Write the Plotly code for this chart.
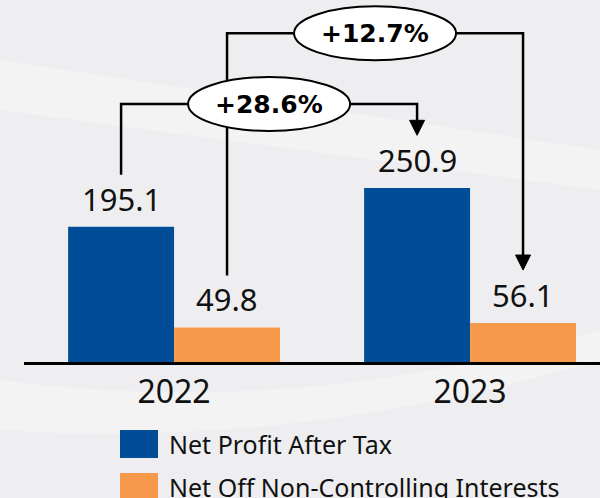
import plotly.graph_objects as go

# ---------------- data ----------------
categories = ["2022", "2023"]
series_names = ["Net Profit After Tax", "Net Off Non-Controlling Interests"]
npat = [195.1, 250.9]
nci = [49.8, 56.1]
growth_npat = "+28.6%"
growth_nci = "+12.7%"

# ---------------- style ----------------
BLUE = "#004C97"
ORANGE = "#F7994A"
BG = "#EEEEF0"
W, H = 600, 498
L, R, T, B = 24, 0, 0, 136
PW, PH = W - L - R, H - T - B
BARGAP = 0.284
BW = (1 - BARGAP) / 2          # width of one bar in category units
XR = [-0.507, 1.439]
YMAX = 522
UX = (XR[1] - XR[0]) / PW      # x units per pixel
UY = YMAX / PH                 # y units per pixel

def paper_x(p):
    return (p - L) / PW

def paper_y(p):
    return (T + PH - p) / PH

fig = go.Figure()
fig.add_trace(go.Bar(x=categories, y=npat, name=series_names[0],
                     marker=dict(color=BLUE, line=dict(width=0)), showlegend=False,
                     hoverinfo="skip"))
fig.add_trace(go.Bar(x=categories, y=nci, name=series_names[1],
                     marker=dict(color=ORANGE, line=dict(width=0)), showlegend=False,
                     hoverinfo="skip"))

annotations = []
shapes = []

# faint background swooshes
shapes.append(dict(type="path", xref="paper", yref="paper", layer="below",
                   path=f"M {paper_x(0)} {paper_y(60)} L {paper_x(600)} {paper_y(150)} L {paper_x(600)} {paper_y(190)} L {paper_x(0)} {paper_y(110)} Z",
                   fillcolor="rgba(255,255,255,0.3)", line=dict(width=0)))
shapes.append(dict(type="path", xref="paper", yref="paper", layer="below",
                   path=f"M {paper_x(0)} {paper_y(380)} Q {paper_x(300)} {paper_y(420)} {paper_x(600)} {paper_y(330)} L {paper_x(600)} {paper_y(360)} Q {paper_x(300)} {paper_y(450)} {paper_x(0)} {paper_y(430)} Z",
                   fillcolor="rgba(255,255,255,0.3)", line=dict(width=0)))

# value labels above bars
LABEL_FONT = dict(family="Noto Sans", size=31, color="#111111")
for i, c in enumerate(categories):
    for vals, sh in ((npat, -BW / 2), (nci, BW / 2)):
        annotations.append(dict(x=i + sh, y=vals[i], xref="x", yref="y",
                                text=f"{vals[i]:.1f}", showarrow=False,
                                yanchor="middle", yshift=28, font=LABEL_FONT))

# connectors
OFF = 75
LW = 2.5
ARW = 7.5 * UX
ARH = 15 * UY

def connector(x0, y0, x1, y1, level):
    shapes.append(dict(type="path", xref="x", yref="y",
                       path=f"M {x0} {y0} L {x0} {level} L {x1} {level} L {x1} {y1 + ARH}",
                       line=dict(color="black", width=LW)))
    shapes.append(dict(type="path", xref="x", yref="y",
                       path=f"M {x1 - ARW} {y1 + ARH} L {x1 + ARW} {y1 + ARH} L {x1} {y1} Z",
                       fillcolor="black", line=dict(color="black", width=1)))

LEVEL_NPAT = 372
LEVEL_NCI = 474
connector(0 + BW / 2, nci[0] + OFF, 1 + BW / 2, nci[1] + OFF + 1.5, LEVEL_NCI)
connector(0 - BW / 2, npat[0] + OFF, 1 - BW / 2, npat[1] + OFF + 1, LEVEL_NPAT)

EW = 81 * UX
EH = 27 * UY
for (xa, xb, level, txt) in ((0 - BW / 2, 1 - BW / 2, LEVEL_NPAT, growth_npat),
                             (0 + BW / 2, 1 + BW / 2, LEVEL_NCI, growth_nci)):
    xc = (xa + xb) / 2
    shapes.append(dict(type="circle", xref="x", yref="y",
                       x0=xc - EW, x1=xc + EW, y0=level - EH, y1=level + EH,
                       fillcolor="white", line=dict(color="black", width=2)))
    annotations.append(dict(x=xc, y=level, xref="x", yref="y", text=f"<b>{txt}</b>",
                            showarrow=False, font=dict(family="DejaVu Sans", size=25, color="black")))

# manual legend with large swatches
for k, (name, col) in enumerate(zip(series_names, [BLUE, ORANGE])):
    top = 430 + 43 * k
    shapes.append(dict(type="rect", xref="paper", yref="paper",
                       x0=paper_x(120), x1=paper_x(158), y0=paper_y(top + 28), y1=paper_y(top),
                       fillcolor=col, line=dict(width=0)))
    annotations.append(dict(x=paper_x(167), y=paper_y(top + 14), xref="paper", yref="paper",
                            text=name, showarrow=False, xanchor="left", yanchor="middle",
                            font=dict(family="Noto Sans", size=25, color="#111111")))

fig.update_layout(
    width=W, height=H,
    margin=dict(l=L, r=R, t=T, b=B, pad=0),
    paper_bgcolor=BG, plot_bgcolor=BG,
    barmode="group", bargap=BARGAP, bargroupgap=0,
    showlegend=False,
    hovermode=False,
    xaxis=dict(type="category", range=XR, showline=True, linecolor="black", linewidth=2.5,
               ticks="", showgrid=False, zeroline=False, fixedrange=True,
               tickfont=dict(family="Noto Sans", size=32, color="#111111")),
    yaxis=dict(range=[0, YMAX], visible=False, showgrid=False, zeroline=False, fixedrange=True),
    shapes=shapes,
    annotations=annotations,
)

fig.write_html("out.html",
               config={"displayModeBar": False, "staticPlot": True},
               post_script="document.body.style.margin='0';document.body.style.overflow='hidden';")
